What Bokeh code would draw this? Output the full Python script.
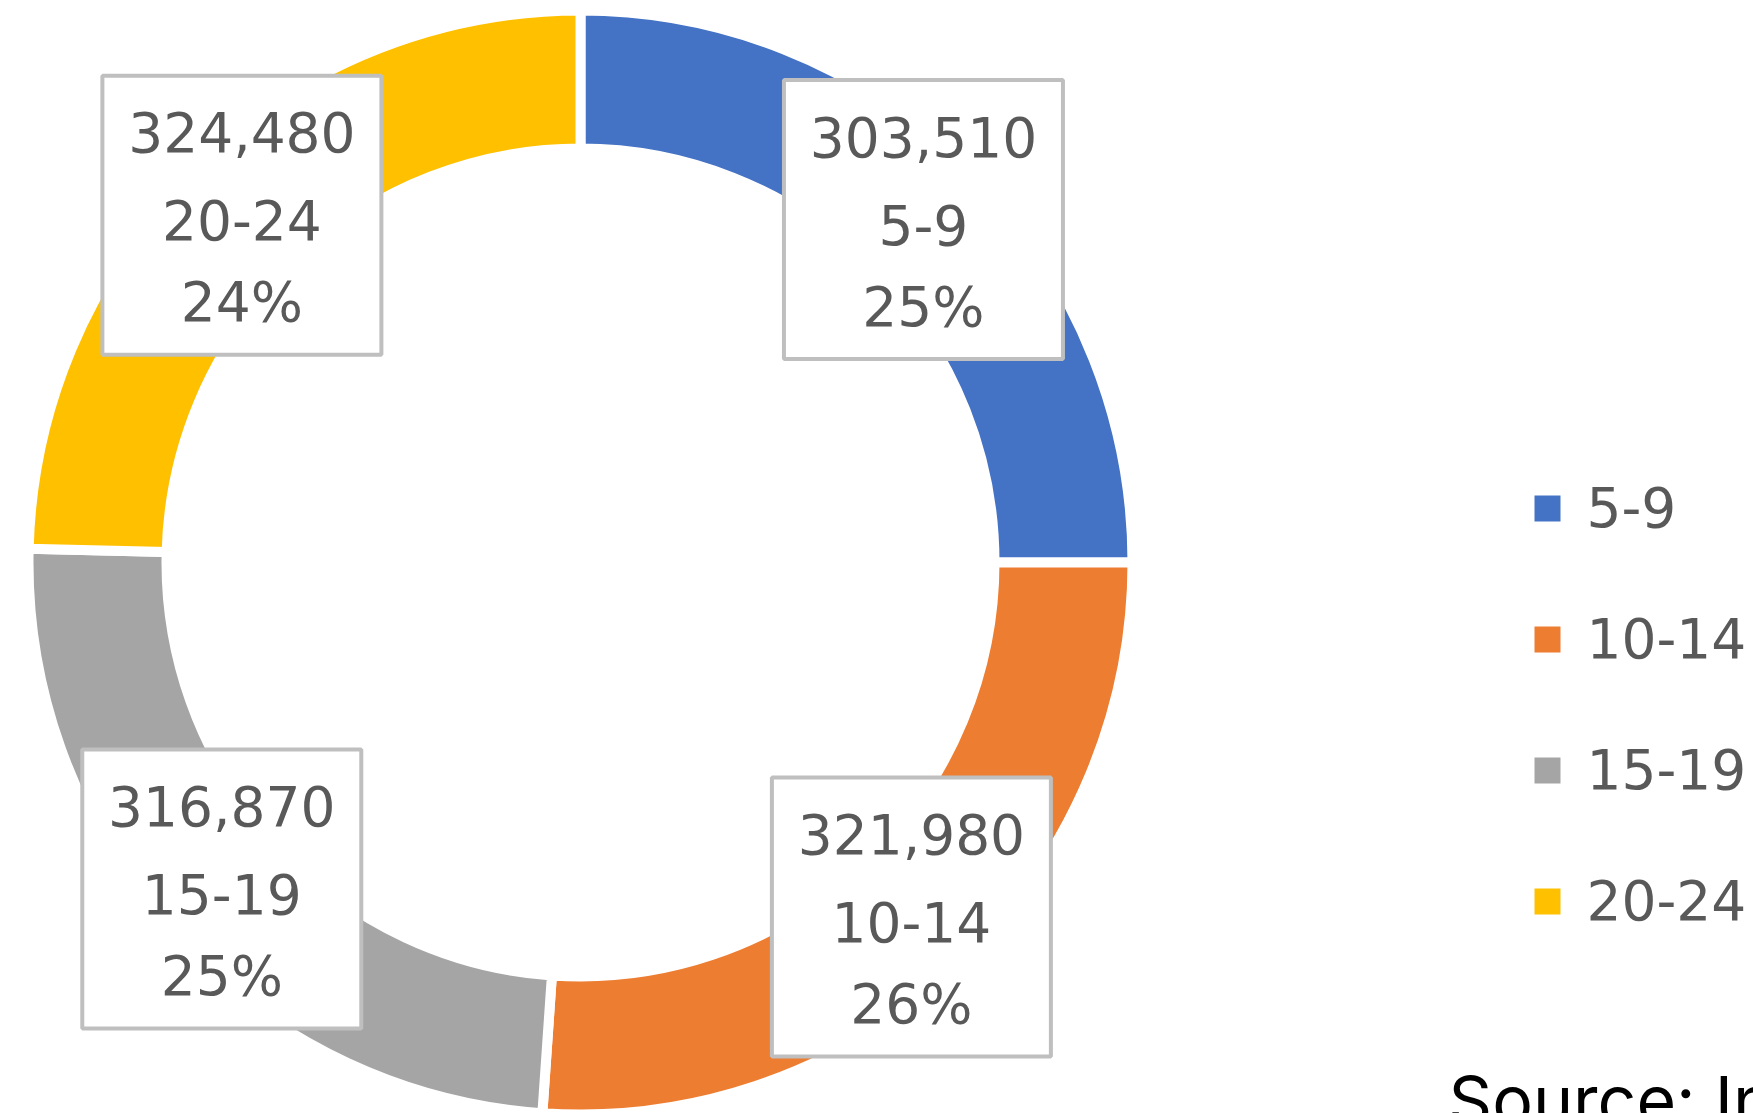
import math
from bokeh.plotting import figure
from bokeh.models import Range1d
from bokeh.embed import file_html
from bokeh.resources import INLINE
from bokeh.core.properties import value

# ---- data ----
categories = ["5-9", "10-14", "15-19", "20-24"]
values = [303510, 321980, 316870, 324480]
pct_labels = ["25%", "26%", "25%", "24%"]
# angular share of each slice (percent of the ring), as drawn
shares = [25.0, 26.1, 24.3, 24.6]
colors = ["#4472C4", "#ED7D31", "#A5A5A5", "#FFC000"]
source_note = "Source: In"

W, H = 1753, 1113
p = figure(width=W, height=H, x_range=Range1d(0, W), y_range=Range1d(0, H),
           output_backend="svg", toolbar_location=None, min_border=0,
           x_axis_type=None, y_axis_type=None)
p.grid.visible = False
p.outline_line_color = None
p.background_fill_color = "white"
p.border_fill_color = "white"

# ring geometry (screen px, 1 data unit = 1 px)
cx, cy = 580, H - 562
R_out, R_in = 547, 419
gap = 10

total = sum(shares)
starts, ends, mids = [], [], []
cum = 0.0
for s in shares:
    a0 = cum / total * 2 * math.pi
    cum += s
    a1 = cum / total * 2 * math.pi
    starts.append(math.pi / 2 - a0)
    ends.append(math.pi / 2 - a1)
    mids.append((a0 + a1) / 2)

p.annular_wedge(x=[cx] * 4, y=[cy] * 4,
                inner_radius=R_in - gap / 2, outer_radius=R_out + gap / 2,
                start_angle=starts, end_angle=ends, direction="clock",
                fill_color=colors, line_color="white", line_width=gap)

# data label boxes
r_lab = 485
lx = [cx + r_lab * math.sin(m) for m in mids]
ly = [cy + r_lab * math.cos(m) for m in mids]
p.rect(x=lx, y=ly, width=279, height=279, width_units="screen", height_units="screen",
       fill_color="white", line_color="#BFBFBF", line_width=4)

font = value("DejaVu Sans")
lines = [[f"{v:,}" for v in values], categories, pct_labels]
offsets = [-83, 5, 87]
for txt, off in zip(lines, offsets):
    p.text(x=lx, y=ly, text=txt, y_offset=off, text_align="center",
           text_baseline="alphabetic", text_font=font, text_font_size="55px",
           text_color="#595959")

# legend
leg_x = 1547
leg_y = [H - (508 + 131 * i) for i in range(len(categories))]
p.rect(x=[leg_x] * 4, y=leg_y, width=26, height=26, width_units="screen",
       height_units="screen", fill_color=colors, line_color=None)
p.text(x=[leg_x + 39] * 4, y=leg_y, text=categories, y_offset=-2,
       text_align="left", text_baseline="alphabetic", text_font=font,
       text_font_size="55px", text_color="#595959")

# source note (cut by the frame edge as in the original)
p.text(x=[1448], y=[H - 1099], text=[source_note], text_align="left",
       text_baseline="alphabetic", text_font=value("Inter"),
       text_font_size="68px", text_color="#000000")

open("out.html", "w").write(file_html(p, INLINE))
